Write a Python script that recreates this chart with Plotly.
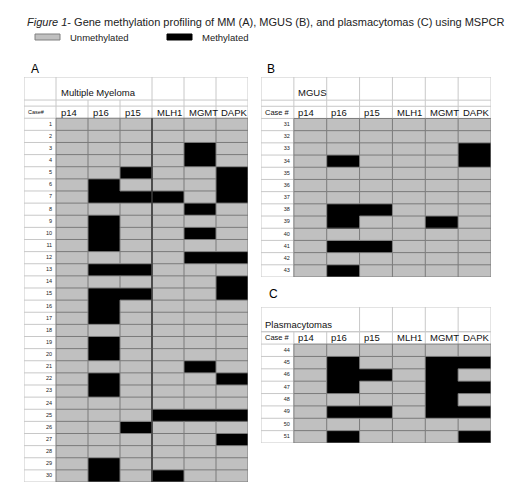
import plotly.graph_objects as go

# ============================================================================
# Data: 1 = methylated, 0 = unmethylated
# ============================================================================

GENES = ['p14', 'p16', 'p15', 'MLH1', 'MGMT', 'DAPK']

# A - Multiple Myeloma, cases 1-30
MM_CASES = list(range(1, 31))
MM_STATUS = [
    [0, 0, 0, 0, 0, 0], [0, 0, 0, 0, 0, 0], [0, 0, 0, 0, 1, 0], [0, 0, 0, 0, 1, 0],
    [0, 0, 1, 0, 0, 1], [0, 1, 0, 0, 0, 1], [0, 1, 1, 1, 0, 1], [0, 0, 0, 0, 1, 0],
    [0, 1, 0, 0, 0, 0], [0, 1, 0, 0, 1, 0], [0, 1, 0, 0, 0, 0], [0, 0, 0, 0, 1, 1],
    [0, 1, 1, 0, 0, 0], [0, 0, 0, 0, 0, 1], [0, 1, 1, 0, 0, 1], [0, 1, 0, 0, 0, 0],
    [0, 1, 0, 0, 0, 0], [0, 0, 0, 0, 0, 0], [0, 1, 0, 0, 0, 0], [0, 1, 0, 0, 0, 0],
    [0, 0, 0, 0, 1, 0], [0, 1, 0, 0, 0, 1], [0, 1, 0, 0, 0, 0], [0, 0, 0, 0, 0, 0],
    [0, 0, 0, 1, 1, 1], [0, 0, 1, 0, 0, 0], [0, 0, 0, 0, 0, 1], [0, 0, 0, 0, 0, 0],
    [0, 1, 0, 0, 0, 0], [0, 1, 0, 1, 0, 0],
]

# B - MGUS, cases 31-43
MGUS_CASES = list(range(31, 44))
MGUS_STATUS = [
    [0, 0, 0, 0, 0, 0], [0, 0, 0, 0, 0, 0], [0, 0, 0, 0, 0, 1], [0, 1, 0, 0, 0, 1],
    [0, 0, 0, 0, 0, 0], [0, 0, 0, 0, 0, 0], [0, 0, 0, 0, 0, 0], [0, 1, 1, 0, 0, 0],
    [0, 1, 0, 0, 1, 0], [0, 0, 0, 0, 0, 0], [0, 1, 1, 0, 0, 0], [0, 0, 0, 0, 0, 0],
    [0, 1, 0, 0, 0, 0],
]

# C - Plasmacytomas, cases 44-51
PC_CASES = list(range(44, 52))
PC_STATUS = [
    [0, 0, 0, 0, 0, 0], [0, 1, 0, 0, 1, 1], [0, 1, 1, 0, 1, 0], [0, 1, 0, 0, 1, 1],
    [0, 0, 0, 0, 1, 0], [0, 1, 1, 0, 1, 1], [0, 0, 0, 0, 0, 0], [0, 1, 0, 0, 0, 1],
]

LEGEND_NAMES = ['Unmethylated', 'Methylated']

GRAY = '#c0c0c0'
DARK_LINE = '#7a7a7a'
LIGHT_LINE = '#c8c8c8'
FONT = 'Liberation Sans, Arial, sans-serif'

W, H = 520, 492

fig = go.Figure()


def add_lines(xs, ys, color, width, xa, ya):
    fig.add_trace(go.Scatter(x=xs, y=ys, mode='lines', xaxis=xa, yaxis=ya,
                             line=dict(color=color, width=width),
                             hoverinfo='skip', showlegend=False))


def add_panel(idx, cases, z, label, label_x, head_cuts, head_h, strip, case_txt,
              case_size, xdom, ydom, thick_col=None):
    xa = 'x' if idx == 1 else f'x{idx}'
    ya = 'y' if idx == 1 else f'y{idx}'
    n = len(cases)
    ncol = len(GENES)
    strip_h = 0.5 if strip else 0.0
    top = -(1 + strip_h + head_h)

    fig.add_trace(go.Heatmap(
        x=[c + 0.5 for c in range(ncol)], y=[r + 0.5 for r in range(n)], z=z,
        zmin=0, zmax=1, colorscale=[[0, GRAY], [1, '#000000']],
        showscale=False, xaxis=xa, yaxis=ya,
        hovertemplate='case %{y}<br>%{x}<extra></extra>'))

    # --- light grid in the white areas ---
    lx, ly = [], []
    for y in [top, -1 - strip_h, -1]:
        lx += [-1, ncol, None]; ly += [y, y, None]
    for r in range(n + 1):
        lx += [-1, 0, None]; ly += [r, r, None]
    for x in head_cuts:
        lx += [x, x, None]; ly += [top, -1 - strip_h, None]
    for x in range(-1, ncol + 1):
        lx += [x, x, None]; ly += [-1 - strip_h, 0, None]
    lx += [-1, -1, None]; ly += [0, n, None]
    add_lines(lx, ly, LIGHT_LINE, 1, xa, ya)

    # --- dark grid in the data area (merged where both cells methylated) ---
    dx, dy = [], []
    for k in range(ncol + 1):
        for r in range(n):
            if 0 < k < ncol and z[r][k - 1] and z[r][k]:
                continue
            dx += [k, k, None]; dy += [r, r + 1, None]
    for r in range(n + 1):
        for c in range(ncol):
            if 0 < r < n and z[r - 1][c] and z[r][c]:
                continue
            dx += [c, c + 1, None]; dy += [r, r, None]
    add_lines(dx, dy, DARK_LINE, 1, xa, ya)

    if thick_col is not None:
        tx, ty = [], []
        for r in range(n):
            tx += [thick_col, thick_col, None]; ty += [r, r + 1, None]
        add_lines(tx, ty, '#3a3a3a', 1.6, xa, ya)

    # row labels
    fig.add_trace(go.Scatter(
        x=[-0.12] * n, y=[r + 0.5 for r in range(n)], text=[str(c) for c in cases],
        mode='text', textposition='middle left', xaxis=xa, yaxis=ya,
        textfont=dict(family=FONT, size=5.5, color='#222'),
        hoverinfo='skip', showlegend=False))

    # column headers
    for i, g in enumerate(GENES):
        fig.add_annotation(x=i + 0.08, y=-0.5, xref=xa, yref=ya, text=g,
                           showarrow=False, xanchor='left', yanchor='middle',
                           font=dict(family=FONT, size=9.5, color='#111'))
    fig.add_annotation(x=-0.95, y=-0.5, xref=xa, yref=ya, text=case_txt,
                       showarrow=False, xanchor='left', yanchor='middle',
                       font=dict(family=FONT, size=case_size, color='#111'))
    fig.add_annotation(x=label_x, y=-1 - strip_h - 0.6, xref=xa, yref=ya, text=label,
                       showarrow=False, xanchor='left', yanchor='middle',
                       font=dict(family=FONT, size=9.5, color='#111'))

    ax_common = dict(showgrid=False, zeroline=False, showticklabels=False,
                     ticks='', showline=False, fixedrange=True)
    fig.layout[xa.replace('x', 'xaxis')] = dict(domain=xdom, range=[-1, ncol],
                                               anchor=ya, **ax_common)
    fig.layout[ya.replace('y', 'yaxis')] = dict(domain=ydom, range=[n, top],
                                               anchor=xa, **ax_common)


add_panel(1, MM_CASES, MM_STATUS, 'Multiple Myeloma', 0.08, [-1, 0, 3, 4, 5, 6],
          1.9, True, 'Case#', 5.5,
          [16 / W, 240 / W], [1 - 474 / H, 1 - 69 / H], thick_col=3)
add_panel(2, MGUS_CASES, MGUS_STATUS, 'MGUS', 0.08, [-1, 0, 1, 2, 3, 4, 5, 6],
          1.9, True, 'Case #', 7.5,
          [253 / W, 483 / W], [1 - 269 / H, 1 - 69 / H])
add_panel(3, PC_CASES, PC_STATUS, 'Plasmacytomas', -0.95, [-1, 2, 3, 4, 5, 6],
          2.0, False, 'Case #', 7.5,
          [253 / W, 483 / W], [1 - 435 / H, 1 - 299 / H])

# legend key (drawn in paper space so it sits exactly under the title)
for name, col, px in zip(LEGEND_NAMES, [GRAY, '#000000'], [27, 159]):
    fig.add_shape(type='rect', xref='paper', yref='paper',
                  x0=px / W, x1=(px + 25) / W, y0=1 - 32 / H, y1=1 - 26 / H,
                  fillcolor=col, line=dict(color='#808080' if col == GRAY else '#000', width=1))
    fig.add_annotation(x=(px + 33) / W, y=1 - 29 / H, xref='paper', yref='paper', text=name,
                       showarrow=False, xanchor='left', yanchor='middle',
                       font=dict(family=FONT, size=9.5, color='#222'))

# panel letters
for letter, px, py in [('A', 27, 61), ('B', 263, 61), ('C', 265, 286)]:
    fig.add_annotation(x=px / W, y=1 - py / H, xref='paper', yref='paper', text=letter,
                       showarrow=False, xanchor='center', yanchor='middle',
                       font=dict(family=FONT, size=12, color='#000'))

fig.add_annotation(
    x=17 / W, y=1 - 14 / H, xref='paper', yref='paper', showarrow=False,
    xanchor='left', yanchor='middle',
    text='<i>Figure 1</i>- Gene methylation profiling of MM (A), MGUS (B), and plasmacytomas (C) using MSPCR',
    font=dict(family=FONT, size=11, color='#222'))

fig.update_layout(
    width=W, height=H,
    margin=dict(l=0, r=0, t=0, b=0),
    paper_bgcolor='white', plot_bgcolor='white',
    showlegend=False,
)

fig.write_html('out.html')
